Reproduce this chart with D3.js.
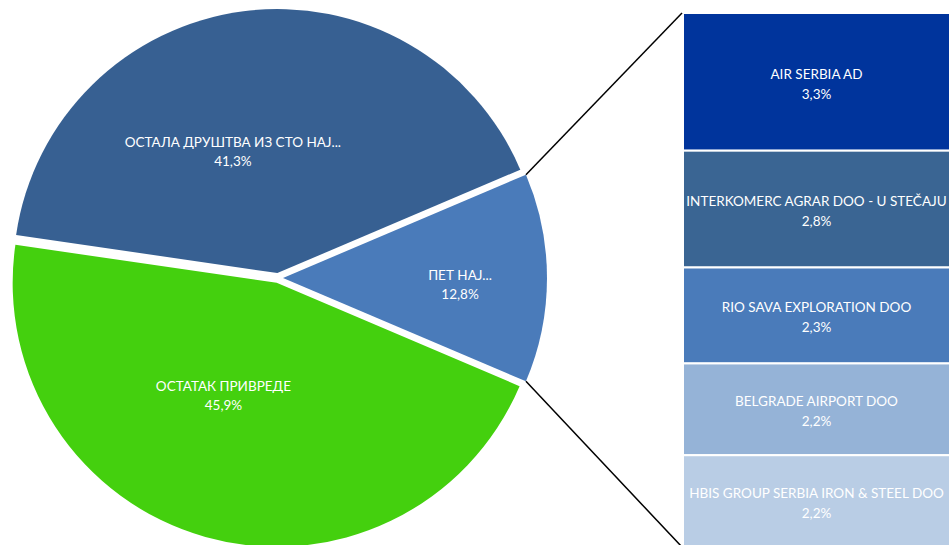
<!DOCTYPE html>
<html>
<head>
<meta charset="utf-8">
<script src="https://cdn.jsdelivr.net/npm/d3@7"></script>
<style>
  body { margin: 0; background: #fff; }
  svg { display: block; font-family: Lato, "Open Sans", sans-serif; }
</style>
</head>
<body>
<svg id="chart" width="950" height="545"></svg>
<script>
// pie slices (starting with the split-off one)
var pieNames = ["ПЕТ НАЈ...", "ОСТАТАК ПРИВРЕДЕ", "ОСТАЛА ДРУШТВА ИЗ СТО НАЈ..."];
var pieValues = [12.8, 45.9, 41.3];
var pieLabels = ["12,8%", "45,9%", "41,3%"];
var pieColors = ["#4a7bba", "#44d00e", "#376092"];

// the five companies in the bar
var barNames = ["AIR SERBIA AD", "INTERKOMERC AGRAR DOO - U STEČAJU", "RIO SAVA EXPLORATION DOO",
                "BELGRADE AIRPORT DOO", "HBIS GROUP SERBIA IRON & STEEL DOO"];
var barValues = [3.3, 2.8, 2.3, 2.2, 2.2];
var barLabels = ["3,3%", "2,8%", "2,3%", "2,2%", "2,2%"];
var barColors = ["#00349c", "#3a6593", "#4a7bba", "#95b3d7", "#b9cde5"];

var width = 950;
var height = 545;
var cx = 278, cy = 278, r = 264, explode = 5;

var svg = d3.select("#chart");

var total = d3.sum(pieValues);
var half = Math.PI * pieValues[0] / total;

var pie = d3.pie()
  .sort(null)
  .startAngle(Math.PI / 2 - half)
  .endAngle(Math.PI / 2 - half + 2 * Math.PI);

var arcs = pie(pieValues);

var arc = d3.arc().innerRadius(0).outerRadius(r);

// label placement tweaks (radius fraction, angle nudge in degrees)
var labelR = [0.69, 0.49, 0.51];
var labelNudge = [2, 9.3, -12.2];

function offset(d) {
  var a = (d.startAngle + d.endAngle) / 2;
  return [explode * Math.sin(a), -explode * Math.cos(a)];
}

var g = svg.append("g").attr("transform", "translate(" + cx + "," + cy + ")");

g.selectAll("path")
  .data(arcs)
  .enter()
  .append("path")
    .attr("d", arc)
    .attr("fill", function(d, i) { return pieColors[i]; })
    .attr("transform", function(d) {
      var o = offset(d);
      return "translate(" + o[0] + "," + o[1] + ")";
    });

var pieText = g.selectAll("text.pl")
  .data(arcs)
  .enter()
  .append("text")
    .attr("class", "pl")
    .attr("text-anchor", "middle")
    .attr("fill", "#fff")
    .attr("font-size", 13.5)
    .attr("transform", function(d, i) {
      var a = (d.startAngle + d.endAngle) / 2 + labelNudge[i] * Math.PI / 180;
      var rr = labelR[i] * r;
      return "translate(" + (rr * Math.sin(a)) + "," + (-rr * Math.cos(a)) + ")";
    });
pieText.append("tspan").attr("x", 0).attr("y", -4).text(function(d, i) { return pieNames[i]; });
pieText.append("tspan").attr("x", 0).attr("y", 15).text(function(d, i) { return pieLabels[i]; });

// stacked bar
var barX0 = 683, barX1 = 950;
var y = d3.scaleLinear()
  .domain([0, d3.sum(barValues)])
  .range([13, 547]);

var cum = 0;
var segs = barValues.map(function(v, i) {
  var s = { i: i, y0: cum, y1: cum + v };
  cum += v;
  return s;
});

var bars = svg.append("g");
bars.selectAll("rect")
  .data(segs)
  .enter()
  .append("rect")
    .attr("x", barX0)
    .attr("width", barX1 - barX0)
    .attr("y", function(d) { return y(d.y0); })
    .attr("height", function(d) { return y(d.y1) - y(d.y0); })
    .attr("fill", function(d) { return barColors[d.i]; })
    .attr("stroke", "#fff")
    .attr("stroke-width", 2);

var barText = bars.selectAll("text")
  .data(segs)
  .enter()
  .append("text")
    .attr("text-anchor", "middle")
    .attr("fill", "#fff")
    .attr("font-size", 13.5)
    .attr("transform", function(d) {
      return "translate(" + ((barX0 + barX1) / 2) + "," + ((y(d.y0) + y(d.y1)) / 2) + ")";
    });
barText.append("tspan").attr("x", 0).attr("y", -3).text(function(d) { return barNames[d.i]; });
barText.append("tspan").attr("x", 0).attr("y", 17).text(function(d) { return barLabels[d.i]; });

// connector lines from split slice to bar
var sl = arcs[0];
var so = offset(sl);
var p1 = [cx + so[0] + r * Math.sin(sl.startAngle), cy + so[1] - r * Math.cos(sl.startAngle)];
var p2 = [cx + so[0] + r * Math.sin(sl.endAngle), cy + so[1] - r * Math.cos(sl.endAngle)];

svg.append("line")
  .attr("x1", p1[0]).attr("y1", p1[1])
  .attr("x2", barX0 - 1).attr("y2", y(0))
  .attr("stroke", "#000").attr("stroke-width", 1.5);
svg.append("line")
  .attr("x1", p2[0]).attr("y1", p2[1])
  .attr("x2", barX0 - 1).attr("y2", y(d3.sum(barValues)))
  .attr("stroke", "#000").attr("stroke-width", 1.5);
</script>
</body>
</html>
